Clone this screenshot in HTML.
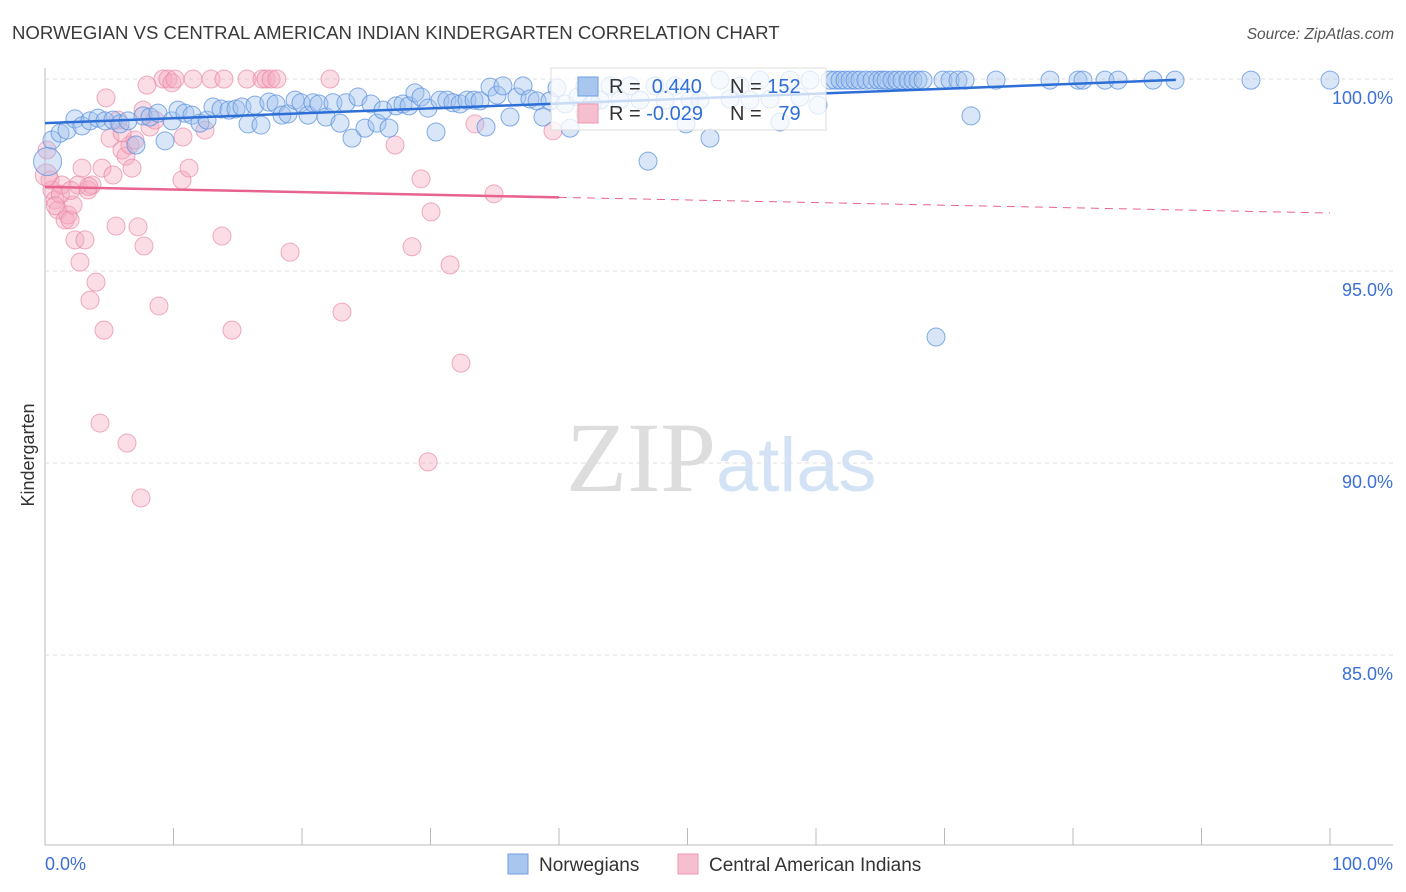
<!DOCTYPE html>
<html><head><meta charset="utf-8"><style>
body{margin:0;background:#fff;font-family:"Liberation Sans",sans-serif}
svg{display:block}
</style></head><body>
<svg id="c" width="1406" height="892" xmlns="http://www.w3.org/2000/svg">
<text x="12" y="39" font-size="18.6" fill="#3a3a3a">NORWEGIAN VS CENTRAL AMERICAN INDIAN KINDERGARTEN CORRELATION CHART</text>
<text x="1394" y="39" font-size="15.5" fill="#555" text-anchor="end" font-style="italic">Source: ZipAtlas.com</text>
<text x="716" y="491" font-size="100" fill="#ddd" text-anchor="end" font-family="Liberation Serif,serif">ZIP</text>
<text x="716" y="491" font-size="76" fill="#d3e2f5">atlas</text>
<text transform="translate(34,455) rotate(-90)" font-size="18" fill="#333" text-anchor="middle">Kindergarten</text>
<g id="grid"></g><g id="pts"></g><g id="lines"></g>
<g>
<rect x="551" y="68" width="275" height="62" fill="#fff" fill-opacity="0.75" stroke="#ddd"/>
<rect x="578" y="77" width="20" height="19" fill="#a9c6ef" stroke="#6f9ee0"/>
<rect x="578" y="104" width="20" height="19" fill="#f6bfd0" stroke="#ee9ab3"/>
<text x="609" y="93" font-size="20" fill="#333">R = <tspan fill="#2f6fd6">&#160;0.440</tspan><tspan x="730">N = </tspan><tspan fill="#2f6fd6">152</tspan></text>
<text x="609" y="120" font-size="20" fill="#333">R = <tspan fill="#2f6fd6">-0.029</tspan><tspan x="730">N = </tspan><tspan fill="#2f6fd6">&#160;&#160;79</tspan></text>
</g>
<g>
<rect x="508" y="854" width="20" height="20" fill="#a9c6ef" stroke="#6f9ee0"/>
<text x="539" y="871" font-size="19" fill="#333">Norwegians</text>
<rect x="678" y="854" width="20" height="20" fill="#f6bfd0" stroke="#ee9ab3"/>
<text x="709" y="871" font-size="19" fill="#333">Central American Indians</text>
</g>
</svg>
<script>
const blueX=[0.54,1.17,1.71,2.33,2.88,3.50,4.12,4.67,5.29,5.84,6.46,7.08,7.63,8.17,8.79,9.34,9.88,10.35,10.89,11.44,12.06,12.61,13.07,13.70,14.32,14.86,15.33,15.80,16.34,16.81,17.43,17.98,18.44,18.91,19.46,19.92,20.47,20.86,21.32,21.87,22.41,22.96,23.42,23.89,24.36,24.90,25.37,25.84,26.30,26.77,27.32,27.86,28.33,28.79,29.26,29.81,30.43,30.74,31.28,31.75,32.30,32.84,33.39,33.85,34.32,34.63,35.18,35.64,36.19,36.73,37.20,37.74,38.29,38.75,39.30,39.84,40.47,40.86,41.48,42.02,42.57,43.19,43.97,44.75,45.53,46.30,46.93,47.47,48.25,49.03,49.88,50.19,50.97,51.75,52.53,53.31,54.09,54.86,55.64,56.42,57.20,57.98,58.75,59.53,60.16,61.09,61.48,61.87,62.26,62.65,63.04,63.42,63.89,64.36,64.82,65.14,65.45,65.91,66.30,66.69,67.16,67.55,67.94,68.33,69.34,69.88,70.43,71.05,71.60,72.06,74.01,78.21,80.39,80.78,82.49,83.50,86.23,87.94,93.85,100,0.2];
const blueY=[98.41,98.59,98.67,98.96,98.78,98.91,98.98,98.91,98.93,98.83,98.91,98.28,99.04,99.01,99.11,98.39,98.91,99.19,99.11,99.06,98.85,98.93,99.27,99.22,99.19,99.22,99.27,98.83,99.32,98.80,99.40,99.35,99.06,99.09,99.45,99.38,99.06,99.38,99.35,99.01,99.38,98.85,99.38,98.46,99.53,98.72,99.35,98.85,99.19,98.72,99.30,99.35,99.30,99.64,99.53,99.24,98.62,99.45,99.45,99.38,99.35,99.45,99.45,99.43,98.75,99.79,99.58,99.82,99.01,99.53,99.82,99.48,99.43,99.01,99.43,99.77,99.35,98.72,99.53,99.82,99.35,99.45,99.82,99.45,99.82,99.45,97.86,99.82,99.45,99.82,98.83,99.45,99.45,98.46,99.97,99.48,99.82,99.45,99.97,99.48,98.88,99.97,99.53,99.97,99.32,99.97,99.97,99.97,99.97,99.97,99.97,99.97,99.97,99.97,99.97,99.97,99.97,99.97,99.97,99.97,99.97,99.97,99.97,99.97,93.28,99.97,99.97,99.97,99.97,99.04,99.97,99.97,99.97,99.97,99.97,99.97,99.97,99.97,99.97,99.97,97.85];
const pinkX=[0.16,0.39,0.54,0.78,1.01,1.32,1.56,1.79,1.95,2.18,2.33,2.57,2.72,2.88,3.11,3.35,3.50,3.66,3.97,4.28,4.59,4.44,4.75,5.06,5.29,5.53,5.68,5.99,6.30,6.38,6.61,6.77,7.00,7.24,7.47,7.63,7.70,7.94,8.17,8.56,8.87,9.18,9.57,9.88,10.12,10.66,10.74,11.21,11.52,12.45,12.92,13.77,13.93,14.55,15.72,16.89,17.20,17.59,18.05,19.07,22.18,23.11,27.24,28.56,29.26,29.81,30.04,31.52,32.37,33.46,34.94,39.53,42.02,1.2,3.4,6.0,0.1,0.8,2.0];
const pinkY=[98.15,97.37,97.11,96.85,96.59,97.24,96.33,96.46,96.33,96.72,95.81,97.24,95.23,97.68,95.81,97.11,94.24,97.24,94.71,91.04,93.46,97.68,99.51,98.46,97.50,96.17,98.93,98.15,97.99,90.52,98.28,97.68,98.41,96.15,89.09,99.19,95.65,99.84,98.75,98.93,94.09,100,100,99.90,100,97.37,98.49,97.68,100,98.67,100,95.91,100,93.46,100,100,100,100,100,95.49,100,93.93,98.28,95.63,97.40,90.03,96.54,95.16,92.60,98.83,97.01,98.65,99.11,97.0,97.2,98.6,97.5,96.7,97.1];
const yTicks=[100,95,90,85];
const yTickLabels=["100.0%","95.0%","90.0%","85.0%"];
const blueTrend=[98.85,0.0128,0,88];
const pinkTrend=[97.19,-0.0068,0,40,100];
const NS="http://www.w3.org/2000/svg";
const sx=v=>45+v*12.85, sy=v=>79+(100-v)*38.4;
function mk(tag,attrs,parent){const e=document.createElementNS(NS,tag);for(const k in attrs)e.setAttribute(k,attrs[k]);parent.appendChild(e);return e;}
const grid=document.getElementById('grid');
mk('line',{x1:45,y1:68,x2:45,y2:845,stroke:'#bbb'},grid);
mk('line',{x1:45,y1:845,x2:1393,y2:845,stroke:'#bbb'},grid);
yTicks.forEach((t,i)=>{
 const g=mk('line',{x1:45,y1:sy(t),x2:1393,y2:sy(t),stroke:'#ddd','stroke-dasharray':'4,4'},grid);
 
 
 const tx=mk('text',{x:1393,y:sy(t)+25,'font-size':18,fill:'#3b6fd4','text-anchor':'end'},grid);
 tx.textContent=yTickLabels[i];
 
 
});
for(let i=0;i<=10;i++){const l=mk('line',{x1:sx(i*10),y1:828,x2:sx(i*10),y2:845,stroke:'#bbb'},grid);
 
 }
const xl0=mk('text',{x:45,y:870,'font-size':18,fill:'#3b6fd4'},grid);xl0.textContent='0.0%';


const xl1=mk('text',{x:1393,y:870,'font-size':18,fill:'#3b6fd4','text-anchor':'end'},grid);xl1.textContent='100.0%';


const pts=document.getElementById('pts');
pinkX.forEach((x,i)=>{const r=(i==pinkX.length-3)?11:9;const c=mk('circle',{cx:sx(x),cy:sy(pinkY[i]),r:r,fill:'#f4a9c0','fill-opacity':0.4,stroke:'#e889a7','stroke-opacity':0.7},pts);
 
 });
blueX.forEach((x,i)=>{const r=(i==blueX.length-1)?14:9;const c=mk('circle',{cx:sx(x),cy:sy(blueY[i]),r:r,fill:'#9fc0ee','fill-opacity':0.4,stroke:'#5b91de','stroke-opacity':0.75},pts);
 
 });
const lines=document.getElementById('lines');
const bt=mk('line',{x1:sx(blueTrend[2]),y1:sy(blueTrend[0]+blueTrend[1]*blueTrend[2]),x2:sx(blueTrend[3]),y2:sy(blueTrend[0]+blueTrend[1]*blueTrend[3]),stroke:'#2d6fd6','stroke-width':2.5},lines);


const pf=x=>pinkTrend[0]+pinkTrend[1]*x;
const pt=mk('line',{x1:sx(pinkTrend[2]),y1:sy(pf(pinkTrend[2])),x2:sx(pinkTrend[3]),y2:sy(pf(pinkTrend[3])),stroke:'#e8638f','stroke-width':2.5},lines);


const pd=mk('line',{x1:sx(pinkTrend[3]),y1:sy(pf(pinkTrend[3])),x2:sx(pinkTrend[4]),y2:sy(pf(pinkTrend[4])),stroke:'#e8638f','stroke-width':1,'stroke-dasharray':'8,6'},lines);


</script>
</body></html>
